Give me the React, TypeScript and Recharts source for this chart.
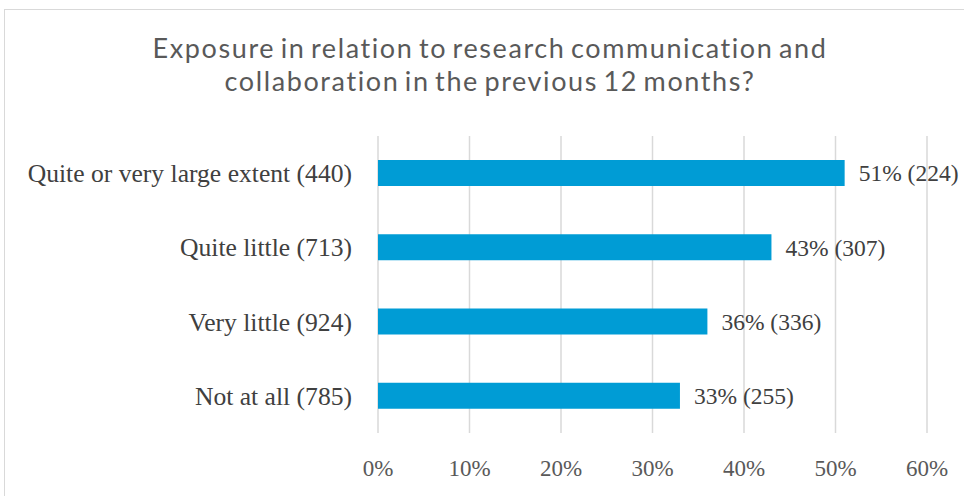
import React from 'react';
import { BarChart, Bar, XAxis, YAxis, CartesianGrid, LabelList } from 'recharts';

const categories = [
  'Quite or very large extent (440)',
  'Quite little (713)',
  'Very little (924)',
  'Not at all (785)',
];
const percents = [51, 43, 36, 33];
const counts = [224, 307, 336, 255];
const xTicks = [0, 10, 20, 30, 40, 50, 60];

const data = categories.map((name, i) => ({
  name,
  value: percents[i],
  label: `${percents[i]}% (${counts[i]})`,
}));

const SERIF = '"Liberation Serif", "DejaVu Serif", serif';

export default function App() {
  return (
    <div style={{ position: 'absolute', left: 0, top: 0, width: 964, height: 496, overflow: 'hidden', background: '#fff' }}>
      {/* chart frame */}
      <div style={{ position: 'absolute', left: 4, top: 9, width: 972, height: 500, border: '1px solid #d9d9d9', boxSizing: 'border-box' }} />
      <div
        style={{
          position: 'absolute', left: 4, width: 972, top: 31, textAlign: 'center',
          fontFamily: 'Lato, "Open Sans", sans-serif', fontSize: 27, lineHeight: '33px',
          letterSpacing: 1.6, wordSpacing: -3, color: '#595959',
        }}
      >
        Exposure in relation to research communication and
        <br />
        collaboration in the previous 12 months?
      </div>
      <div style={{ position: 'absolute', left: 0, top: 0 }}>
        <BarChart
          width={964}
          height={496}
          data={data}
          layout="vertical"
          margin={{ top: 136, right: 37, bottom: 33, left: 0 }}
        >
          <CartesianGrid horizontal={false} stroke="#d9d9d9" strokeWidth={1.5} />
          <XAxis
            type="number"
            domain={[0, 60]}
            ticks={xTicks}
            tickFormatter={(v: number) => `${v}%`}
            axisLine={false}
            tickLine={false}
            tickSize={0}
            tickMargin={27}
            tick={{ fill: '#595959', fontSize: 23, fontFamily: SERIF }}
            interval={0}
          />
          <YAxis
            type="category"
            dataKey="name"
            width={378}
            axisLine={false}
            tickLine={false}
            tickSize={0}
            tickMargin={26}
            tick={{ fill: '#404040', fontSize: 25.6, fontFamily: SERIF }}
            interval={0}
          />
          <Bar dataKey="value" fill="#009cd5" barSize={26} isAnimationActive={false}>
            <LabelList
              dataKey="label"
              position="right"
              offset={14}
              style={{ fill: '#404040', fontSize: 23.5, fontFamily: SERIF }}
            />
          </Bar>
        </BarChart>
      </div>
    </div>
  );
}
